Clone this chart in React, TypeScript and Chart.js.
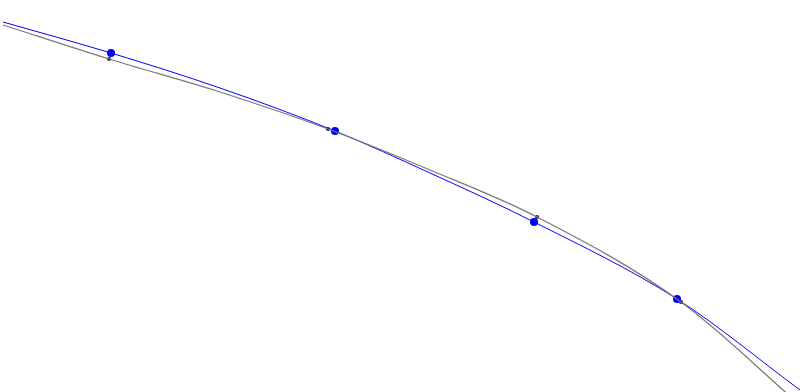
import React, { useEffect, useRef } from "react";
import { Chart, registerables } from "chart.js";

Chart.register(...registerables);

// Curve sample values (x, y)
const blueCurveX = [3, 111, 220, 335, 430, 534, 677, 800];
const blueCurveY = [370, 339, 304, 261, 219, 170, 93, 2];
const grayCurveX = [3, 109, 220, 328, 430, 537, 681, 800];
const grayCurveY = [367, 333, 300, 263, 222, 175, 90, -13];

// Marker values
const bluePointX = [111, 335, 534, 677];
const bluePointY = [339, 261, 170, 93];
const grayPointX = [109, 328, 537, 681];
const grayPointY = [333, 263, 175, 90];

const toXY = (xs: number[], ys: number[]) => xs.map((x, i) => ({ x, y: ys[i] }));

export default function App() {
  const ref = useRef<HTMLCanvasElement | null>(null);
  useEffect(() => {
    if (!ref.current) return;
    const chart = new Chart(ref.current, {
      type: "scatter",
      data: {
        datasets: [
          {
            type: "line",
            data: toXY(grayCurveX, grayCurveY),
            borderColor: "#7a7a7a",
            borderWidth: 1.3,
            pointRadius: 0,
            cubicInterpolationMode: "monotone",
            fill: false,
          } as any,
          {
            type: "line",
            data: toXY(blueCurveX, blueCurveY),
            borderColor: "#0000ff",
            borderWidth: 1,
            pointRadius: 0,
            cubicInterpolationMode: "monotone",
            fill: false,
          } as any,
          {
            data: toXY(bluePointX, bluePointY),
            backgroundColor: "#0000ff",
            borderColor: "#0000ff",
            pointRadius: 4,
            borderWidth: 0,
          },
          {
            data: toXY(grayPointX, grayPointY),
            backgroundColor: "#222222",
            borderColor: "#222222",
            pointRadius: 2,
            borderWidth: 0,
          },
        ],
      },
      options: {
        animation: false,
        responsive: true,
        maintainAspectRatio: false,
        layout: { padding: 0, autoPadding: false },
        plugins: { legend: { display: false }, tooltip: { enabled: false } },
        scales: {
          x: { type: "linear", min: 0, max: 800, display: false },
          y: { type: "linear", min: 0, max: 392, display: false },
        },
      },
    });
    return () => chart.destroy();
  }, []);
  return (
    <div style={{ position: "absolute", left: 0, top: 0, width: 800, height: 392, background: "#fff" }}>
      <canvas ref={ref} />
    </div>
  );
}
